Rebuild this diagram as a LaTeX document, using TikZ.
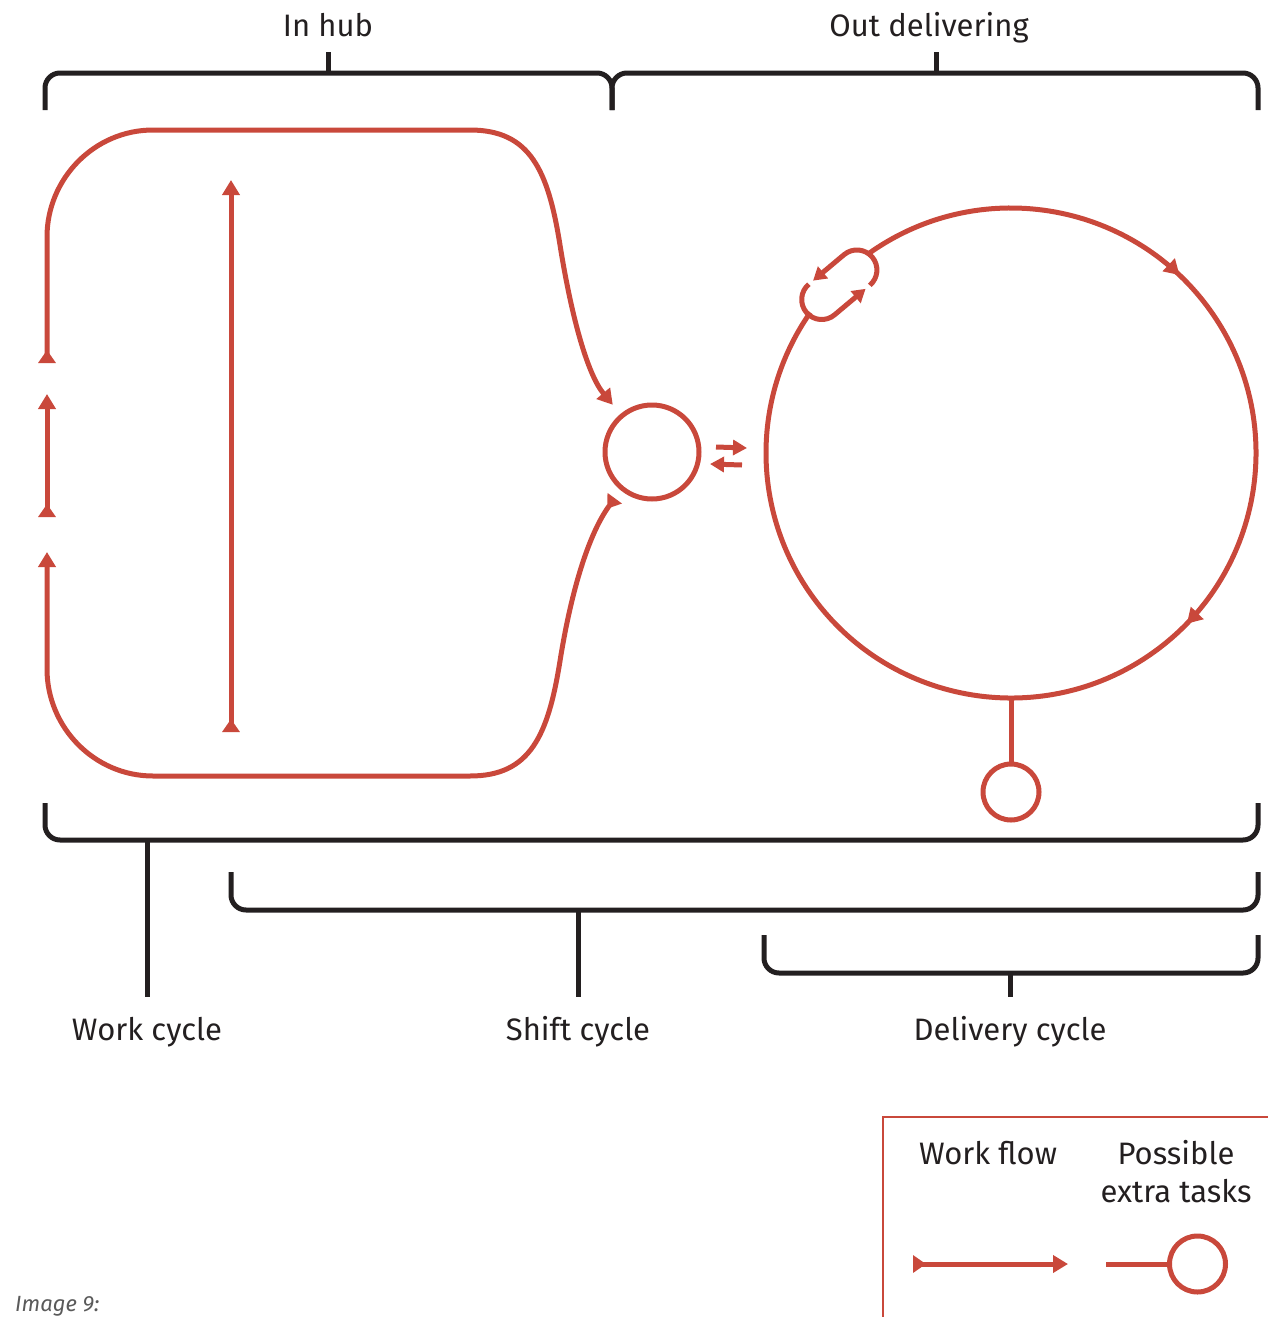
\documentclass[tikz,border=0pt]{standalone}
\usepackage{fontspec}
\setmainfont{Fira Sans}
\usetikzlibrary{arrows.meta,decorations.markings,calc}
\definecolor{flowred}{RGB}{201,72,59}
\definecolor{ink}{RGB}{35,31,32}
\definecolor{captiongray}{RGB}{90,90,90}
\tikzset{
  ftip/.tip={Triangle[width=17pt,length=15pt]},
  ftail/.tip={Triangle[reversed,width=17pt,length=13pt]},
  stip/.tip={Triangle[width=15pt,length=13pt]},
  xtip/.tip={Triangle[width=15pt,length=14pt]},
}
\begin{document}
\begin{tikzpicture}[x=1pt,y=-1pt,
  flow/.style={draw=flowred,line width=5pt},
  bracket/.style={draw=ink,line width=5pt,rounded corners=15pt},
  tick/.style={draw=ink,line width=5pt},
  lbl/.style={font=\fontsize{31}{36}\selectfont,text=ink,anchor=base,inner sep=0pt},
  task/.style={circle,draw=flowred,line width=5pt,inner sep=0pt,outer sep=0pt,minimum size=56pt},
]
\useasboundingbox (0,0) rectangle (1268,1317);

% ---- hub and delivery round ----
\node[circle,draw=flowred,line width=5pt,inner sep=0pt,outer sep=0pt,minimum size=94pt] (hub) at (652,452) {};
\coordinate (bigc) at (1011,453);
\coordinate (bigw) at (766,453);
\coordinate (bigbot) at (1011,698);
\node[task] (extra) at (1011,792) {};
\coordinate (hubin) at ($(hub.135)+(-6,-14)$);
\coordinate (hubout) at ($(hub.-135)+(-4,13)$);

% ---- in-hub work cycle ----
\draw[flow,{ftail}-{ftip}] (47,363) -- (47,237)
  .. controls (47,178.5) and (94.5,130) .. (153,130) -- (470,130)
  .. controls (530,130) and (548,170) .. (560,245)
  .. controls (572,320) and (588,375) .. (hubin);
\draw[flow,{ftail}-{ftip}] (hubout)
  .. controls (590,532) and (572,586) .. (560,661)
  .. controls (548,736) and (530,776) .. (470,776) -- (153,776)
  .. controls (94.5,776) and (47,727.5) .. (47,669) -- (47,552);
\draw[flow,{ftail}-{ftip}] (47,517) -- (47,394);
\draw[flow,{ftail}-{ftip}] (231,732) -- (231,180);

% ---- hub <-> road exchange ----
\draw[flow,-{xtip}] ($(hub.east)+(17,-5)$) -- ($(bigw)+(-19,-5)$);
\draw[flow,-{xtip}] ($(bigw)+(-24,12)$) -- ($(hub.east)+(11,12)$);

% ---- delivery round, clockwise ----
\draw[flow,postaction={decorate},decoration={markings,
    mark=at position 0.233 with {\arrow{ftip}},
    mark=at position 0.499 with {\arrow{ftip}}}]
  (bigc) ++(-126:245) arc[start angle=-126,end angle=215,radius=245];

% small repeat loop on the round
\begin{scope}[shift={(839.3,284.75)},rotate=40]
  \draw[flow,-{stip}] (23,20) arc[start angle=90,end angle=-90,radius=20] -- (-17.5,-20);
  \draw[flow,-{stip}] (-23,-20) arc[start angle=-90,end angle=-270,radius=20] -- (17.5,20);
\end{scope}

% extra task off the round
\draw[flow] (bigbot) -- (extra.north);

% ---- top brackets ----
\draw[bracket] (45,110) -- (45,73) -- (612,73) -- (612,110);
\draw[bracket] (612,110) -- (612,73) -- (1258,73) -- (1258,110);
\draw[tick] (328,52) -- (328,73);
\draw[tick] (936,52) -- (936,73);
\node[lbl] (inhub) at (328,36) {In hub};
\node[lbl] (outdel) at (929,36) {Out delivering};

% ---- bottom brackets ----
\draw[bracket] (45,803) -- (45,840) -- (1258,840) -- (1258,803);
\draw[bracket] (231,872) -- (231,910) -- (1258,910) -- (1258,872);
\draw[bracket] (764,935) -- (764,973) -- (1258,973) -- (1258,935);
\node[lbl] (work) at (147,1040) {Work cycle};
\node[lbl] (shift) at (578,1040) {Shift cycle};
\node[lbl] (deliv) at (1010,1040) {Delivery cycle};
\draw[tick] (147,840) -- (147,997);
\draw[tick] (578,910) -- (578,997);
\draw[tick] (1010,973) -- (1010,997);

% ---- legend ----
\draw[draw=flowred,line width=2.7pt] (883,1330) -- (883,1117) -- (1280,1117);
\node[lbl] (lgflow) at (988,1164) {Work flow};
\node[lbl] (lgextra1) at (1176,1164) {Possible};
\node[lbl] (lgextra2) at (1176,1202) {extra tasks};
\coordinate (lgs) at (913,1264);
\coordinate (lge) at (1068,1264);
\draw[flow,{ftail}-{ftip}] (lgs) -- (lge);
\node[task] (lgtask) at (1197.5,1264) {};
\coordinate (lgline) at (1106,1264);
\draw[flow] (lgline) -- (lgtask.west);

% ---- caption ----
\node[font=\itshape\fontsize{22}{25}\selectfont,text=captiongray,anchor=base west,inner sep=0pt] (cap) at (15,1311) {Image 9:};
\end{tikzpicture}
\end{document}
